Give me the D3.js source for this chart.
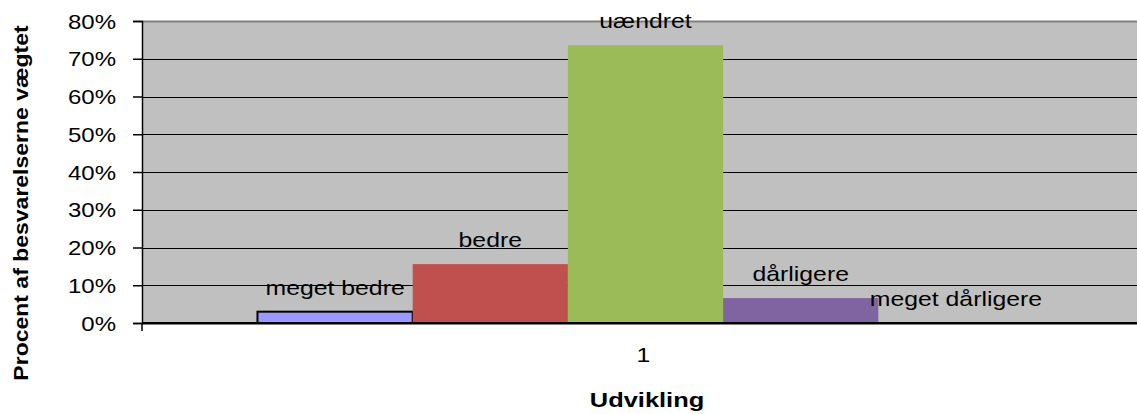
<!DOCTYPE html>
<html><head><meta charset="utf-8">
<script src="https://cdn.jsdelivr.net/npm/d3@7"></script>
<style>html,body{margin:0;padding:0;background:#fff;overflow:hidden}</style>
</head><body><svg id="c" width="1137" height="414"></svg>
<script>
const categories = ["1"];
const series = ["meget bedre", "bedre", "uændret", "dårligere", "meget dårligere"];
const values = [0.03, 0.156, 0.736, 0.066, 0.0];
const colors = ["#9999FF", "#C0504D", "#9BBB59", "#8064A2", "#4BACC6"];
const yTicks = [0, 0.1, 0.2, 0.3, 0.4, 0.5, 0.6, 0.7, 0.8];

const svg = d3.select("#c");
const m = {left: 142, top: 21, right: 1149, bottom: 323};
const font = "'Liberation Sans', Arial, sans-serif";
const SX = 1.24;

function stretched(parent, x, y, txt, opts) {
  const o = Object.assign({size: 20, weight: "normal", anchor: "middle", sx: SX}, opts || {});
  return parent.append("text")
    .attr("transform", `translate(${x},${y}) scale(${o.sx},1)`)
    .attr("text-anchor", o.anchor).attr("font-family", font).attr("font-size", o.size)
    .attr("font-weight", o.weight).attr("fill", "#000").text(txt);
}

const y = d3.scaleLinear().domain([0, 0.8]).range([m.bottom, m.top]);
const x0 = d3.scaleBand().domain(categories).range([m.left, m.right]).paddingInner(0).paddingOuter(0);
const x1 = d3.scaleBand().domain(series).range([0, x0.bandwidth()]).paddingOuter(0.744).paddingInner(0);

// plot area
svg.append("rect").attr("x", m.left).attr("y", m.top).attr("width", m.right - m.left).attr("height", m.bottom - m.top)
  .attr("fill", "#C0C0C0");
svg.append("line").attr("x1", m.left).attr("x2", m.right).attr("y1", m.top + 0.5).attr("y2", m.top + 0.5)
  .attr("stroke", "#808080").attr("stroke-width", 2);

// gridlines
svg.append("g").selectAll("line").data(yTicks.filter(t => t > 0 && t < 0.8)).join("line")
  .attr("x1", m.left).attr("x2", m.right)
  .attr("y1", d => Math.round(y(d)) + 0.5).attr("y2", d => Math.round(y(d)) + 0.5)
  .attr("stroke", "#000").attr("stroke-width", 1);

// bars
const g = svg.append("g");
series.forEach((s, i) => {
  const bx = x0("1") + x1(s);
  const by = y(values[i]);
  const h = y(0) - by;
  if (h > 0.5) {
    g.append("rect").attr("x", bx).attr("y", by).attr("width", x1.bandwidth()).attr("height", h)
      .attr("fill", colors[i])
      .attr("stroke", i === 0 ? "#000" : "none").attr("stroke-width", i === 0 ? 2 : 0);
  }
  stretched(g, bx + x1.bandwidth() / 2, by - 17, s);
});

// y axis
const ya = svg.append("g").attr("transform", `translate(${m.left},0)`)
  .call(d3.axisLeft(y).tickValues(yTicks).tickFormat(d3.format(".0%")).tickSize(9).tickPadding(16));
ya.select(".domain").attr("stroke", "#000").attr("stroke-width", 1.5);
ya.selectAll(".tick line").attr("stroke", "#000").attr("stroke-width", 1.5);
ya.selectAll(".tick text")
  .attr("x", -26 / 1.2).attr("dy", "0.36em")
  .attr("transform", "scale(1.2,1)")
  .attr("font-family", font).attr("font-size", 20).attr("fill", "#000");

// x axis
svg.append("line").attr("x1", m.left).attr("x2", m.right).attr("y1", m.bottom).attr("y2", m.bottom)
  .attr("stroke", "#000").attr("stroke-width", 2);
svg.append("line").attr("x1", m.left).attr("x2", m.right).attr("y1", m.bottom + 1.5).attr("y2", m.bottom + 1.5)
  .attr("stroke", "#808080").attr("stroke-width", 1);
svg.append("line").attr("x1", m.left).attr("x2", m.left).attr("y1", m.bottom).attr("y2", m.bottom + 8)
  .attr("stroke", "#000").attr("stroke-width", 1.5);
const xl = svg.append("g");
categories.forEach(c => stretched(xl, x0(c) + x0.bandwidth() / 2 - 2, 362, c));

// titles
stretched(svg, 647, 407, "Udvikling", {weight: "bold", sx: 1.27});
svg.append("text").attr("transform", "translate(28,203) rotate(-90) scale(1.15,1)").attr("text-anchor", "middle")
  .attr("font-family", font).attr("font-size", 20).attr("font-weight", "bold").text("Procent af besvarelserne vægtet");
</script></body></html>
